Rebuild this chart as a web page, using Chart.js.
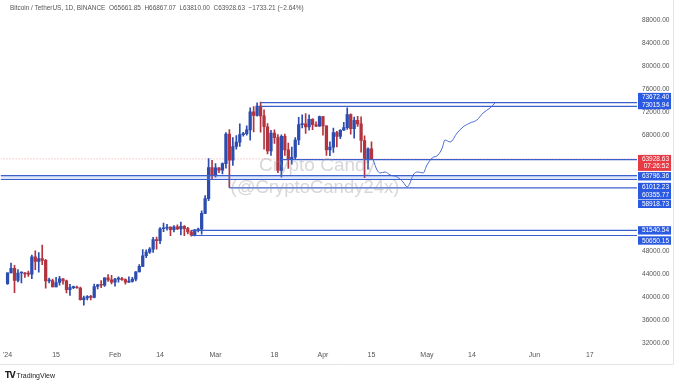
<!DOCTYPE html>
<html>
<head>
<meta charset="utf-8">
<script src="https://cdn.jsdelivr.net/npm/chart.js@4.4.1/dist/chart.umd.min.js"></script>
<style>
  body { margin: 0; background: #fff; }
  #wrap { position: relative; width: 680px; height: 384px; font-family: "Liberation Sans", Arial, sans-serif; }
  #title { position: absolute; left: 10px; top: 4px; font-size: 6.45px; color: #555; white-space: pre; }
  .wm { position: absolute; transform: translate(-50%, -50%); color: rgba(150, 150, 158, 0.38); font-size: 19px; white-space: nowrap; pointer-events: none; }
  #logo { position: absolute; left: 5px; top: 371px; font-size: 7px; color: #222; white-space: nowrap; }
  #logo b { font-size: 8px; letter-spacing: -1px; font-family: "DejaVu Sans", sans-serif; }
</style>
</head>
<body>
<div id="wrap">
  <canvas id="c" width="680" height="384"></canvas>
  <div id="title">Bitcoin / TetherUS, 1D, BINANCE  O65661.85  H66867.07  L63810.00  C63928.63  −1733.21 (−2.64%)</div>
  <div class="wm" style="left:317px; top:165px;">Crypto Candy</div>
  <div class="wm" style="left:315px; top:187px; font-size:18.5px;">(@CryptoCandy24x)</div>
  <div id="logo"><b>TV</b> TradingView</div>
</div>
<script>
// daily candles, BTC/USDT, starting 2024-01-01 (index = days after Jan 1)
const opens = [
  42283, 44179, 44946, 42846, 44151, 44162, 43989, 43943, 46970, 46139, 46632, 46340, 42782, 42847, 41733, 42511,
  43138, 42777, 41262, 41619, 41665, 41546, 39507, 39845, 40078, 39934, 41817, 42120, 42031, 43300, 42946,
  42569, 43082, 43200, 43011, 42582, 42708, 43099, 44339, 45294, 47147, 47771, 48278, 49958, 49742, 51826, 51939,
  52123, 51643, 52137, 51775, 52258, 51849, 51288, 50744, 51569, 51728, 54477, 57037, 62432,
  61131, 62388, 61988, 63114, 68246, 63724, 66075, 66824, 68124, 68314, 68955, 72078, 71453, 73072, 71388, 69500,
  65301, 68390, 67610, 61938, 67842, 65502, 63797, 64209, 67211, 69880, 69988, 69469, 70780, 69851, 69582,
  71280, 69650, 65463, 65964, 68488, 67821, 68897, 69361, 71620, 69146, 70631, 70007, 67117, 63925, 65661.85
];
const highs = [
  44184, 45879, 45500, 44729, 44357, 44224, 44496, 47248, 47972, 47695, 48969, 46498, 43257, 43079, 43400, 43578,
  43198, 42930, 42196, 41876, 41870, 41688, 40129, 40253, 40296, 42209, 42200, 42843, 43305, 43882, 43745,
  43243, 43488, 43380, 43119, 43494, 43399, 44396, 45614, 48200, 48170, 48535, 50334, 50368, 52043, 52820, 52575,
  52162, 52363, 52488, 52985, 52366, 52065, 51548, 51698, 51950, 54910, 57588, 64000, 63676,
  63114, 62433, 63231, 68499, 69000, 67637, 67985, 69990, 68541, 69674, 72800, 73000, 73650, 73777, 72419, 70043,
  68888, 68957, 68124, 68100, 68240, 66650, 65974, 67622, 71150, 71561, 71769, 71552, 70916, 70359, 71366,
  71288, 69675, 66904, 69291, 68725, 69000, 70284, 72797, 71758, 71172, 71305, 71227, 67931, 65840, 66867.07
];
const lows = [
  42180, 44148, 40750, 42613, 42450, 43397, 43576, 43175, 44748, 44300, 45606, 41500, 42436, 41720, 41718, 42050,
  42200, 40683, 40280, 41446, 41500, 39432, 38555, 39484, 39464, 39825, 41395, 41620, 41804, 42683, 42276,
  41879, 42563, 42880, 42222, 42500, 42574, 42788, 44331, 45243, 46800, 47558, 47710, 48300, 49226, 51315, 51577,
  50625, 51275, 51677, 50760, 50625, 50915, 50521, 50585, 51280, 50901, 54450, 56690, 60364,
  60777, 61561, 61321, 62300, 59005, 62787, 65602, 66082, 67862, 68051, 67194, 68620, 71333, 68555, 65600, 64780,
  64538, 66601, 61555, 60775, 64530, 62260, 63000, 63803, 66385, 69280, 68360, 68903, 69009, 69500, 69562,
  68062, 64550, 64493, 65064, 66011, 67447, 68851, 69043, 68210, 67518, 69568, 65086, 60660, 62134, 63810
];
const closes = [
  44179, 44946, 42845, 44151, 44162, 43989, 43943, 46970, 46139, 46632, 46340, 42782, 42848, 41732, 42511, 43139,
  42777, 41262, 41619, 41665, 41545, 39507, 39845, 40077, 39933, 41817, 42120, 42031, 43300, 42946, 42570,
  43082, 43200, 43011, 42582, 42708, 43099, 44339, 45293, 47147, 47771, 48278, 49958, 49742, 51826, 51939, 52123,
  51642, 52137, 51774, 52258, 51849, 51288, 50744, 51568, 51728, 54477, 57037, 62432, 61130,
  62387, 61988, 63113, 68245, 63724, 66075, 66823, 68124, 68313, 68956, 72078, 71452, 73072, 71388, 69500, 65300,
  68393, 67609, 61937, 67841, 65502, 63797, 64209, 67211, 69880, 69988, 69469, 70780, 69850, 69582, 71280,
  69650, 65463, 65964, 68488, 67820, 68897, 69361, 71621, 69146, 70631, 70006, 67116, 63924, 65661.84, 63928.63
];

// horizontal levels drawn on the chart
const levelPrices = [73672.40, 73015.94, 63796.36, 61012.23, 60355.77, 58918.73, 51540.54, 50650.15];
const levelStartDays = [73, 73, 79, -3, -3, 64, 53, 53];
const lastPrice = 63928.63;
const lastTimer = '07:26:52';

// hand-drawn projection path (days after Jan 1, price)
const pathDays = [105.5, 106.6, 107.5, 108.9, 110.4, 112.4, 114.1, 115.3, 116.1, 117.0, 118.4, 119.9, 121.0,
  122.5, 124.2, 125.4, 126.2, 127.7, 129.7, 131.4, 133.4, 135.4, 137.2, 139.2, 140.6];
const pathPrices = [63737, 62003, 61484, 61657, 61137, 60790, 59924, 59057, 59750, 61137, 61657, 61484, 62870,
  64083, 64603, 65816, 67203, 66857, 68417, 69456, 70149, 70669, 71882, 72749, 73616];

const xTickDays = [0, 14, 31, 44, 60, 77, 91, 105, 121, 134, 152, 168];
const xTickLabels = ["'24", '15', 'Feb', '14', 'Mar', '18', 'Apr', '15', 'May', '14', 'Jun', '17'];
const yTicks = [32000, 36000, 40000, 44000, 48000, 52000, 56000, 60000, 64000, 68000, 72000, 76000, 80000, 84000, 88000];

const xMin = -2.02, xMax = 181.6;
const upColor = '#2c4cb0', downColor = '#b3343e', lineBlue = '#3d5fcc';

const candleColors = closes.map((c, i) => c >= opens[i] ? upColor : downColor);

const levelSets = levelPrices.map((p, i) => ({
  type: 'line',
  data: [{ x: Math.max(levelStartDays[i], xMin), y: p }, { x: xMax, y: p }],
  borderColor: lineBlue,
  borderWidth: 1.2,
  pointRadius: 0,
  fill: p === 60355.77 ? { value: 61012.23 } : false,
  backgroundColor: 'rgba(110,145,230,0.22)',
  order: 0
}));

// label offsets on price scale (pixels), to avoid overlap like the reference
const labelShift = { 73672.40: -5.6, 73015.94: -1.4, 63796.36: 16.6, 61012.23: 11.3, 60355.77: 15.3, 58918.73: 16, 51540.54: 0, 50650.15: 5 };

// axis labels that sit under a price label are hidden, as on the reference
const hiddenTick = v => [...levelPrices, lastPrice].some(p => Math.abs(p - v) < 700);

const overlay = {
  id: 'overlay',
  afterDraw(chart) {
    const ctx = chart.ctx, ys = chart.scales.y;
    ctx.save();
    ctx.strokeStyle = '#e2e4ea';
    ctx.lineWidth = 1;
    ctx.beginPath();
    ctx.moveTo(673.5, 0); ctx.lineTo(673.5, 364.5); ctx.lineTo(0, 364.5);
    ctx.stroke();

    ctx.font = '6.5px "Liberation Sans", Arial, sans-serif';
    ctx.textAlign = 'right';
    ctx.textBaseline = 'middle';
    levelPrices.forEach(p => {
      const cy = ys.getPixelForValue(p) + labelShift[p];
      ctx.fillStyle = '#2b5ae2';
      ctx.fillRect(638, cy - 4.2, 33, 8.4);
      ctx.fillStyle = '#fff';
      ctx.fillText(p.toFixed(2), 669, cy + 0.3);
    });
    const ry = ys.getPixelForValue(lastPrice);
    ctx.fillStyle = '#e63a44';
    ctx.fillRect(638, ry - 4, 33, 16);
    ctx.fillStyle = '#fff';
    ctx.fillText(lastPrice.toFixed(2), 669, ry + 0.3);
    ctx.fillText(lastTimer, 669, ry + 7.8);
    ctx.restore();
  }
};

new Chart(document.getElementById('c'), {
  type: 'bar',
  data: {
    datasets: [
      {
        type: 'line',
        data: [{ x: xMin, y: lastPrice }, { x: xMax, y: lastPrice }],
        borderColor: 'rgba(228,90,100,0.55)',
        borderWidth: 1,
        borderDash: [1, 2],
        pointRadius: 0,
        order: 3
      },
      {
        data: lows.map((l, i) => ({ x: i, y: [l, highs[i]] })),
        backgroundColor: candleColors,
        barThickness: 1,
        grouped: false,
        order: 2
      },
      {
        data: opens.map((o, i) => ({ x: i, y: [o, closes[i]] })),
        backgroundColor: candleColors,
        barThickness: 2.6,
        minBarLength: 1,
        grouped: false,
        order: 1
      },
      ...levelSets,
      {
        type: 'line',
        data: [{ x: 64, y: 61012.23 }, { x: 64, y: 58918.73 }],
        borderColor: lineBlue,
        borderWidth: 1.2,
        pointRadius: 0,
        order: 0
      },
      {
        type: 'line',
        data: pathDays.map((d, i) => ({ x: d, y: pathPrices[i] })),
        borderColor: '#4a6bd2',
        borderWidth: 1,
        pointRadius: 0,
        cubicInterpolationMode: 'monotone',
        order: 0
      }
    ]
  },
  options: {
    responsive: false,
    devicePixelRatio: 1,
    animation: false,
    layout: { padding: { left: 0, right: 0, top: 0, bottom: 20 } },
    plugins: { legend: { display: false }, tooltip: { enabled: false } },
    scales: {
      x: {
        type: 'linear',
        min: xMin,
        max: xMax,
        offset: false,
        grid: { display: false, drawTicks: false },
        border: { display: false },
        afterBuildTicks: s => { s.ticks = xTickDays.map(v => ({ value: v })); },
        afterFit: s => { s.height = 16; },
        ticks: {
          autoSkip: false,
          maxRotation: 0,
          padding: 3,
          color: '#555',
          font: { family: '"Liberation Sans", Arial, sans-serif', size: 7 },
          callback: v => xTickLabels[xTickDays.indexOf(v)]
        }
      },
      y: {
        position: 'right',
        min: 31150,
        max: 91470,
        grid: { display: false, drawTicks: false },
        border: { display: false },
        afterBuildTicks: s => { s.ticks = yTicks.map(v => ({ value: v })); },
        afterFit: s => { s.width = 43; s.paddingTop = 0; s.paddingBottom = 0; },
        ticks: {
          padding: 5,
          color: '#555',
          font: { family: '"Liberation Sans", Arial, sans-serif', size: 6.6 },
          callback: v => hiddenTick(v) ? '' : Number(v).toFixed(2)
        }
      }
    }
  },
  plugins: [overlay]
});
</script>
</body>
</html>
